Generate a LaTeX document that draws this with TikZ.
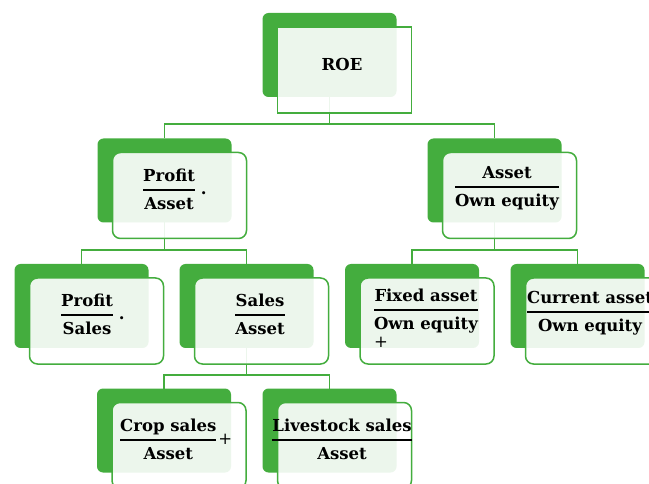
\documentclass[tikz,border=0pt]{standalone}
\usepackage{fontspec}
\setmainfont{DejaVu Serif}
\usetikzlibrary{backgrounds}
\definecolor{gr}{RGB}{68,173,62}
\newcommand{\fr}[2]{\begin{tabular}{@{}c@{}}#1\\\hline #2\end{tabular}}
\setlength{\arrayrulewidth}{1.7pt}
\begin{document}
\begin{tikzpicture}[x=1pt,y=-1pt,
  gbox/.style={fill=gr, rounded corners=6pt, minimum width=134pt, minimum height=84pt, inner sep=0pt, outer sep=0pt},
  obox/.style={draw=gr, line width=1.5pt, fill=white, fill opacity=0.9, rounded corners=8pt, minimum width=134pt, minimum height=86pt, inner sep=0pt, outer sep=0pt},
  txt/.style={font=\fontsize{16.5}{26}\selectfont\bfseries, inner sep=0pt, text=black},
  conn/.style={draw=gr, line width=1.4pt}]
\useasboundingbox (0,0) rectangle (649,484);
\clip (0,0) rectangle (649,484);
\coordinate (y1) at (0,124);
\coordinate (y2) at (0,250);
\coordinate (y3) at (0,375);
% green back boxes
\node[gbox] (g1) at (329.5,55) {};
\node[gbox] (g2) at (164.5,180.5) {};
\node[gbox] (g3) at (494.5,180.5) {};
\node[gbox] (g4) at (81.5,306) {};
\node[gbox] (g5) at (246.5,306) {};
\node[gbox] (g6) at (412,306) {};
\node[gbox] (g7) at (577.5,306) {};
\node[gbox] (g8) at (164,430.5) {};
\node[gbox] (g9) at (329.5,430.5) {};
% outlined front boxes
\node[obox, rounded corners=0pt] (o1) at (344.5,70) {};
\node[obox] (o2) at (179.5,195.5) {};
\node[obox] (o3) at (509.5,195.5) {};
\node[obox] (o4) at (96.5,321) {};
\node[obox] (o5) at (261.5,321) {};
\node[obox] (o6) at (427,321) {};
\node[obox] (o7) at (592.5,321) {};
\node[obox] (o8) at (179,445.5) {};
\node[obox] (o9) at (344.5,445.5) {};
% connectors
\begin{pgfonlayer}{background}
\draw[conn] (g1.south) -- (g1.south |- y1);
\draw[conn] (g2.north) -- (g2.north |- y1) -- (g3.north |- y1) -- (g3.north);
\draw[conn] (g2.south) -- (g2.south |- y2);
\draw[conn] (g4.north) -- (g4.north |- y2) -- (g5.north |- y2) -- (g5.north);
\draw[conn] (g3.south) -- (g3.south |- y2);
\draw[conn] (g6.north) -- (g6.north |- y2) -- (g7.north |- y2) -- (g7.north);
\draw[conn] (g5.south) -- (g5.south |- y3);
\draw[conn] (g8.north) -- (g8.north |- y3) -- (g9.north |- y3) -- (g9.north);
\end{pgfonlayer}
% texts
\node[txt] (t1) at (342,64.5) {ROE};
\node[txt, anchor=west] (t2) at (143,190) {\fr{Profit}{Asset}\hspace{6pt}.};
\node[txt] (t3) at (507,187) {\fr{Asset}{Own equity}};
\node[txt, anchor=west] (t4) at (61,315) {\fr{Profit}{Sales}\hspace{6pt}.};
\node[txt] (t5) at (260,315) {\fr{Sales}{Asset}};
\node[txt] (t6) at (426,310) {\fr{Fixed asset}{Own equity}};
\node[txt] (t6p) at (381,342.5) {\mdseries +};
\node[txt] (t7) at (590,312) {\fr{Current asset}{Own equity}};
\node[txt, anchor=west] (t8) at (120,440) {\fr{Crop sales}{Asset}\hspace{2pt}{\mdseries +}};
\node[txt] (t9) at (342,440) {\fr{Livestock sales}{Asset}};
\end{tikzpicture}
\end{document}
